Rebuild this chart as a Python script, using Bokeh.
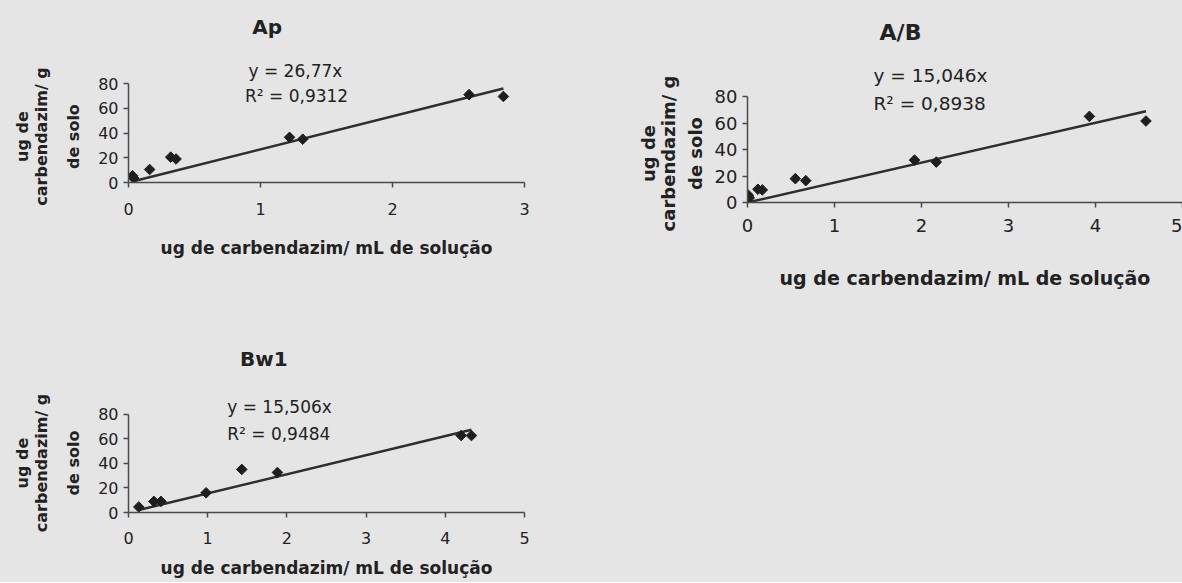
import math
from bokeh.plotting import figure
from bokeh.models import Label, Range1d, FixedTicker, Title
from bokeh.layouts import row, column
from bokeh.embed import file_html
from bokeh.resources import INLINE

# ---------------- data ----------------
ap_x = [0.03, 0.04, 0.16, 0.32, 0.36, 1.22, 1.32, 2.58, 2.84]
ap_y = [5.5, 3.5, 10.5, 20.5, 19.0, 36.5, 35.0, 71.0, 69.5]
ap_slope, ap_r2 = 26.77, 0.9312

ab_x = [0.01, 0.02, 0.12, 0.17, 0.55, 0.67, 1.92, 2.17, 3.93, 4.58]
ab_y = [5.5, 3.5, 10.0, 9.5, 18.0, 16.5, 32.0, 30.5, 65.0, 61.5]
ab_slope, ab_r2 = 15.046, 0.8938

bw_x = [0.13, 0.32, 0.41, 0.98, 1.43, 1.88, 4.20, 4.33]
bw_y = [4.5, 9.0, 9.0, 16.0, 35.0, 32.5, 62.5, 62.5]
bw_slope, bw_r2 = 15.506, 0.9484

y_ticks = [0, 20, 40, 60, 80]
ap_x_ticks = [0, 1, 2, 3]
ab_x_ticks = [0, 1, 2, 3, 4, 5]
bw_x_ticks = [0, 1, 2, 3, 4, 5]

x_title = "ug de carbendazim/ mL de solução"
# y title lines, from the one nearest the axis outwards
y_title_lines = ["de solo", "carbendazim/ g", "ug de"]

BG = "#e5e5e5"
INK = "#222222"
FONT = "DejaVu Sans"


def fmt(v, nd):
    return f"{v:.{nd}f}".replace(".", ",")


def make_panel(name, xs, ys, slope, r2, slope_nd, xticks,
               width, height, L, R, B, px_y,
               fl, fb, title_xy, eq_xy, r2_xy,
               ylab_offsets, ylab_standoffs,
               tick_fs, eq_fs, title_fs, xlab_fs, ylab_fs,
               tick_standoff, xlab_standoff):
    """fl, fb: page x of frame left / page y of frame bottom (x axis)."""
    frame_h = height - B
    p = figure(width=width, height=height, output_backend="svg",
               toolbar_location=None,
               x_range=Range1d(xticks[0], xticks[-1]),
               y_range=Range1d(0, frame_h / px_y),
               min_border_left=L, min_border_right=R,
               min_border_top=0, min_border_bottom=B)
    p.background_fill_color = BG
    p.border_fill_color = BG
    p.outline_line_color = None
    p.grid.visible = False

    for ax in (p.xaxis, p.yaxis):
        ax.axis_line_color = "#4a4a4a"
        ax.axis_line_width = 1.5
        ax.major_tick_line_color = "#4a4a4a"
        ax.major_tick_line_width = 1.5
        ax.major_tick_out = 5
        ax.major_tick_in = 0
        ax.minor_tick_line_color = None
        ax.major_label_text_font = FONT
        ax.major_label_text_font_size = f"{tick_fs}px"
        ax.major_label_text_color = INK
    p.xaxis.ticker = FixedTicker(ticks=xticks)
    p.yaxis.ticker = FixedTicker(ticks=y_ticks)
    p.yaxis.bounds = (y_ticks[0], y_ticks[-1])
    p.xaxis.major_label_standoff = tick_standoff
    p.yaxis.major_label_standoff = 5

    p.xaxis.axis_label = x_title
    p.xaxis.axis_label_text_font = FONT
    p.xaxis.axis_label_text_font_style = "bold"
    p.xaxis.axis_label_text_font_size = f"{xlab_fs}px"
    p.xaxis.axis_label_text_color = INK
    p.xaxis.axis_label_standoff = xlab_standoff

    # three-line y-axis title, as stacked side titles
    for txt, off, so in zip(y_title_lines, ylab_offsets, ylab_standoffs):
        p.add_layout(Title(text=txt, align="left", offset=off, standoff=so,
                           text_font=FONT, text_font_style="bold",
                           text_font_size=f"{ylab_fs}px", text_color=INK),
                     "left")

    # trend line through the origin, from min x to max x
    lx = [min(xs), max(xs)]
    ly = [slope * v for v in lx]
    p.line(lx, ly, line_color="#2e2e2e", line_width=2.5)
    p.scatter(xs, ys, marker="square", angle=math.pi / 4, size=7.5,
              fill_color="#1e1e1e", line_color="#1e1e1e")

    common = dict(x_units="screen", y_units="screen", text_font=FONT,
                  text_color=INK, text_baseline="middle")
    p.add_layout(Label(x=title_xy[0] - fl, y=fb - title_xy[1], text=name,
                       text_align="center", text_font_style="bold",
                       text_font_size=f"{title_fs}px", **common))
    p.add_layout(Label(x=eq_xy[0] - fl, y=fb - eq_xy[1],
                       text=f"y = {fmt(slope, slope_nd)}x",
                       text_align="left", text_font_size=f"{eq_fs}px",
                       **common))
    p.add_layout(Label(x=r2_xy[0] - fl, y=fb - r2_xy[1],
                       text=f"R² = {fmt(r2, 4)}",
                       text_align="left", text_font_size=f"{eq_fs}px",
                       **common))
    return p


TOP_H = 322
BOT_H = 260

# Ap: page x 0-532, frame 128-524, x axis at page y 182
p_ap = make_panel("Ap", ap_x, ap_y, ap_slope, ap_r2, 2, ap_x_ticks,
                  532, TOP_H, 128, 8, TOP_H - 182, 99 / 80,
                  128, 182,
                  (266.7, 26.7), (248, 70), (244.5, 95),
                  (13.5, -23.2, 20.6), (26, -4, -1),
                  16, 17, 20, 17, 16, 15, 20)

# Bw1: page x 0-532, y 322-582, frame 128-524, x axis at page y 512
p_bw = make_panel("Bw1", bw_x, bw_y, bw_slope, bw_r2, 3, bw_x_ticks,
                  532, BOT_H, 128, 8, TOP_H + BOT_H - 512, 98.5 / 80,
                  128, 512 - TOP_H,
                  (263.4, 358.9 - TOP_H), (226.7, 406.7 - TOP_H),
                  (226.7, 433.3 - TOP_H),
                  (17.1, -19.7, 24.1), (26, -4, -1),
                  16, 17, 20, 17, 16, 14, 11)

# A/B: page x 532-1182, frame 747-1182, x axis at page y 202
p_ab = make_panel("A/B", ab_x, ab_y, ab_slope, ab_r2, 3, ab_x_ticks,
                  650, TOP_H, 747 - 532, 0, TOP_H - 202, 106 / 80,
                  747, 202,
                  (900, 31.5), (873, 75), (873, 103.3),
                  (12.5, -28.9, 20.5), (12, -4, -3),
                  18, 18.5, 22, 19, 18, 11, 32)

layout = row(column(p_ap, p_bw), p_ab)
layout.background = BG

open("out.html", "w").write(file_html(layout, INLINE))
